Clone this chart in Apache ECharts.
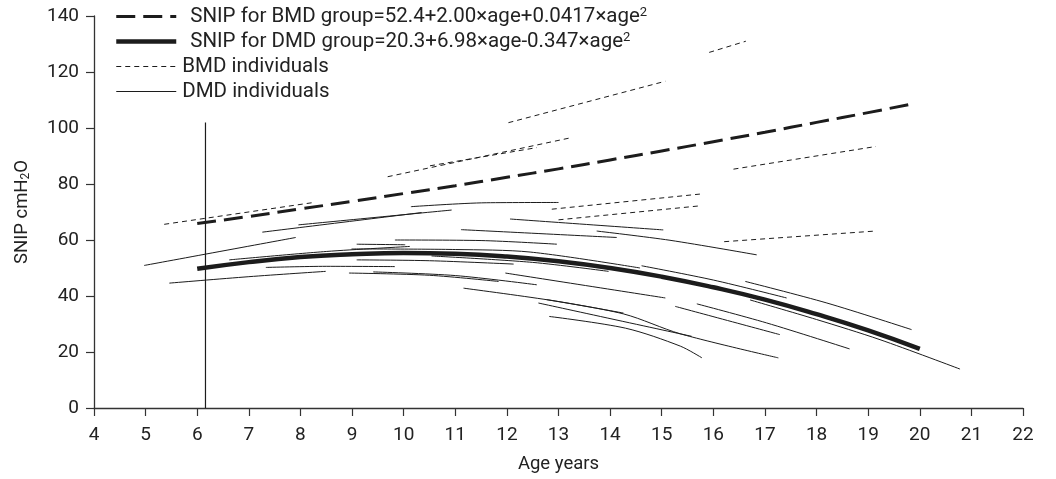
<!DOCTYPE html>
<html>
<head>
<meta charset="utf-8">
<script src="https://cdn.jsdelivr.net/npm/echarts@6/dist/echarts.min.js"></script>
<style>html,body{margin:0;padding:0;background:#fff}#c{width:1056px;height:479px}</style>
</head>
<body>
<div id="c"></div>
<script>
// ---- data ----
const xTicks = [4,5,6,7,8,9,10,11,12,13,14,15,16,17,18,19,20,21,22];
const yTicks = [0,20,40,60,80,100,120,140];

const bmdGroupAge  = [6, 7, 8, 9, 10, 11, 12, 13, 14, 15, 16, 17, 18, 19, 19.85];
const bmdGroupSnip = [65.9, 68.4, 71.1, 73.8, 76.6, 79.4, 82.4, 85.4, 88.6, 91.8, 95.1, 98.5, 102.0, 105.5, 108.6];

const dmdGroupAge  = [6, 7, 8, 9, 10, 11, 12, 13, 14, 15, 16, 17, 18, 19, 20];
const dmdGroupSnip = [49.7, 52.1, 53.9, 54.9, 55.4, 55.1, 54.1, 52.4, 50.0, 46.9, 43.1, 38.7, 33.5, 27.7, 21.1];

const bmdIndividuals = [
  [[5.36,65.6],[8.22,73.3]],
  [[9.69,82.6],[13.26,96.6]],
  [[10.51,86.5],[12.58,93.0]],
  [[12.03,101.9],[15.07,116.7]],
  [[15.92,127.0],[16.63,131.0]],
  [[16.39,85.3],[19.15,93.4]],
  [[12.87,71.0],[15.74,76.4]],
  [[13.0,67.2],[15.74,72.2]],
  [[16.21,59.4],[19.14,63.2]]
];

const dmdIndividuals = [
  [[4.97,50.9],[7.91,60.9]],
  [[5.46,44.6],[7.0,46.9],[8.49,48.8]],
  [[7.26,62.8],[10.35,69.8]],
  [[7.96,65.4],[10.93,70.7]],
  [[10.14,71.9],[11.6,73.3],[13.0,73.4]],
  [[12.06,67.5],[15.03,63.6]],
  [[11.11,63.7],[14.13,60.9]],
  [[13.74,63.2],[15.16,59.9],[16.84,54.7]],
  [[6.62,52.9],[8.5,55.9],[10.12,57.7]],
  [[7.33,50.2],[8.5,50.6],[9.83,50.5]],
  [[9.09,52.9],[10.5,52.6],[12.13,51.4]],
  [[8.94,48.2],[10.5,47.4],[11.84,45.2]],
  [[9.41,48.6],[11.0,47.3],[12.58,44.0]],
  [[9.09,58.5],[10.03,58.3]],
  [[9.83,60.0],[11.5,59.8],[12.97,58.5]],
  [[11.16,42.8],[12.8,38.6],[14.26,33.9]],
  [[12.77,38.7],[14.26,33.6],[15.36,26.5],[17.26,17.9]],
  [[12.61,37.5],[15.58,25.6]],
  [[12.82,32.7],[14.3,28.5],[15.36,22.1],[15.78,17.9]],
  [[11.97,48.2],[15.07,39.3]],
  [[16.71,38.6],[18.0,31.6],[19.23,24.4],[20.78,13.9]],
  [[8.99,56.8],[11.0,56.6],[12.45,55.7],[14.58,50.0]],
  [[10.54,54.3],[12.5,52.0],[13.97,48.8]],
  [[14.61,50.8],[16.0,45.7],[17.42,39.3]],
  [[15.68,37.2],[17.03,30.4],[18.64,21.1]],
  [[15.26,36.3],[17.29,26.2]],
  [[16.62,45.2],[18.2,37.5],[19.84,28.0]]
];

const refLineAge = [6.16, 6.16];
const refLineSnip = [0, 102];

const legendNames = ['SNIP for BMD group', 'SNIP for DMD group', 'BMD individuals', 'DMD individuals'];
const legendTexts = {
  'SNIP for BMD group': '{p|}{t|SNIP for BMD group=52.4+2.00\u00d7age+0.0417\u00d7age}{sup|2}',
  'SNIP for DMD group': '{p|}{t|SNIP for DMD group=20.3+6.98\u00d7age-0.347\u00d7age}{sup|2}',
  'BMD individuals': '{q|}{t|BMD individuals}',
  'DMD individuals': '{q|}{t|DMD individuals}'
};

// ---- chart ----
const FONT = 'Roboto';
const INK = '#1c1c1c';
const zip = (a, b) => a.map((v, i) => [v, b[i]]);
const hiddenSym = { color: 'rgba(0,0,0,0)', borderColor: 'rgba(0,0,0,0)', borderWidth: 0, opacity: 0 };

const series = [];
bmdIndividuals.forEach(seg => series.push({
  name: 'BMD individuals', type: 'line', data: seg, showSymbol: false, symbol: 'none', silent: true,
  lineStyle: { color: INK, width: 1, type: [5, 4] }, z: 3
}));
dmdIndividuals.forEach(seg => series.push({
  name: 'DMD individuals', type: 'line', data: seg, showSymbol: false, symbol: 'none', silent: true, smooth: 0.3,
  lineStyle: { color: INK, width: 1 }, z: 3
}));
series.push({
  name: 'SNIP for BMD group', type: 'line', data: zip(bmdGroupAge, bmdGroupSnip), showSymbol: false, symbol: 'none', smooth: true,
  lineStyle: { color: INK, width: 3, type: [19, 8] }, z: 5
});
series.push({
  name: 'SNIP for DMD group', type: 'line', data: zip(dmdGroupAge, dmdGroupSnip), showSymbol: false, symbol: 'none', smooth: true,
  lineStyle: { color: INK, width: 4.5 }, z: 5
});
series.push({
  name: 'ref', type: 'line', data: zip(refLineAge, refLineSnip), showSymbol: false, symbol: 'none',
  lineStyle: { color: INK, width: 1.2 }, z: 4
});

const chart = echarts.init(document.getElementById('c'), null, { renderer: 'canvas' });
chart.setOption({
  animation: false,
  backgroundColor: '#fff',
  grid: { left: 94, right: 33, top: 16, bottom: 69 },
  legend: {
    data: [
      { name: legendNames[0], itemStyle: hiddenSym, lineStyle: { color: INK, width: 3, type: [19, 8] } },
      { name: legendNames[1], itemStyle: hiddenSym, lineStyle: { color: INK, width: 4.5, type: 'solid' } },
      { name: legendNames[2], itemStyle: hiddenSym, lineStyle: { color: INK, width: 1, type: [5, 4] } },
      { name: legendNames[3], itemStyle: hiddenSym, lineStyle: { color: INK, width: 1, type: 'solid' } }
    ],
    orient: 'vertical',
    left: 114, top: 6, padding: 0,
    itemWidth: 60, itemHeight: 14, itemGap: 4,
    selectedMode: false,
    formatter: n => legendTexts[n],
    textStyle: {
      fontFamily: FONT, fontSize: 20.5, color: '#222',
      rich: {
        t: { fontFamily: FONT, fontSize: 20.5, color: '#222', lineHeight: 20 },
        p: { width: 9 },
        q: { width: 1 },
        sup: { fontFamily: FONT, fontSize: 13, color: '#222', verticalAlign: 'top', lineHeight: 20 }
      }
    }
  },
  xAxis: {
    type: 'value', min: 4, max: 22, interval: 1,
    name: 'Age years', nameLocation: 'middle', nameGap: 47,
    nameTextStyle: { fontFamily: FONT, fontSize: 18.5, color: '#222' },
    axisLine: { onZero: false, lineStyle: { color: '#333', width: 1.3 } },
    axisTick: { length: 8, lineStyle: { color: '#333', width: 1.2 } },
    axisLabel: { margin: 18, fontFamily: FONT, fontSize: 19, color: '#222' },
    splitLine: { show: false }
  },
  yAxis: {
    type: 'value', min: 0, max: 140, interval: 20,
    name: 'SNIP cmH{sub|2}O', nameLocation: 'middle', nameGap: 62,
    nameTextStyle: {
      fontFamily: FONT, fontSize: 18.5, color: '#222',
      rich: { sub: { fontFamily: FONT, fontSize: 12, color: '#222', verticalAlign: 'bottom' } }
    },
    axisLine: { show: true, onZero: false, lineStyle: { color: '#333', width: 1.3 } },
    axisTick: { show: true, length: 8, lineStyle: { color: '#333', width: 1.2 } },
    axisLabel: { margin: 15, fontFamily: FONT, fontSize: 19, color: '#222' },
    splitLine: { show: false }
  },
  series: series
});
</script>
</body>
</html>
